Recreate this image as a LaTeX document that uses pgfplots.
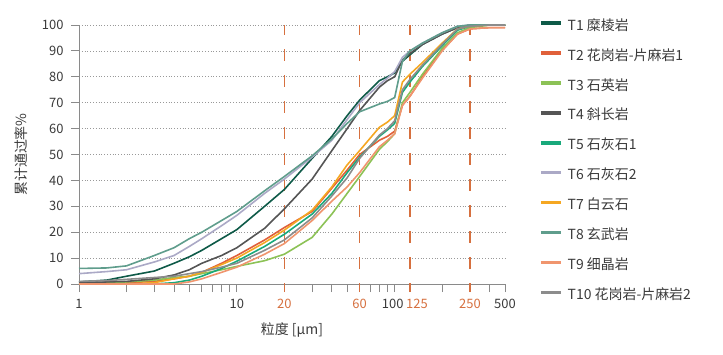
\documentclass[border=0pt]{standalone}
\usepackage{fontspec}
\setmainfont{Noto Sans CJK SC}
\usepackage{pgfplots}
\usepackage{pgfplotstable}
\pgfplotsset{compat=1.18}
\definecolor{cA}{HTML}{0E5A48}
\definecolor{cB}{HTML}{E0603A}
\definecolor{cC}{HTML}{8CC256}
\definecolor{cD}{HTML}{555555}
\definecolor{cE}{HTML}{19A97B}
\definecolor{cF}{HTML}{ABA9C6}
\definecolor{cG}{HTML}{F5A722}
\definecolor{cH}{HTML}{5F9D8C}
\definecolor{cI}{HTML}{F0956E}
\definecolor{cJ}{HTML}{8C8C8C}
\definecolor{dashc}{HTML}{D6703F}
\definecolor{axgray}{HTML}{8A8A8A}
\definecolor{txt}{HTML}{3A3A3A}
\pgfplotstableread{
x    t1   t2   t3   t4   t5   t6   t7   t8   t9   t10
1    0.8  0.5  0    0.5  0    4    0    6    0    1
1.5  1.5  0.5  0.3  0.8  0    4.8  0    6.2  0    1.3
2    3    0.5  0.8  1    0    5.5  0    7    0    1.8
3    5    1    1.5  2    0    8.5  0.5  11   0    2.5
4    8    2    2.5  3.5  0.5  11   2    14   0    3
5    10.5 3    3    5.5  1.5  14.5 3    17.5 0.8  4
6    13   4.5  4    8    3    17.5 4.5  20   2    4.8
8    17.5 8    5.5  11   6    22.5 7.5  24.5 4.5  6.5
10   21   11   6.8  14   8.8  26.5 10   28   6.5  8
15   30   17   9    21.5 14.5 35   16   36   11.5 13
20   36.5 21.8 11.5 29   19.2 40.5 20.8 41.5 15.6 17
30   48.5 28   18   40.5 27   49   28.5 49.5 24.5 25.5
40   57   37   27   51.5 35   55.5 37.5 56   32   34
50   65   44   35   60   43   63.5 46   62   37.5 41
60   71   50   41.5 67   49   70   51.5 66.5 43   48.5
80   78.5 55.5 52   76   57   77   60.5 69.5 53   57.5
90   80   57   55   78.5 59.5 79.5 62.5 70.5 55.5 60
100  81.5 59   58   80   62   82   65   72   58   63
112  86   69   70   86.5 74   87.5 78   86   69   75
125  88.5 72.5 74   89   78   90   81   90   72.5 79
150  92.5 80   81   92.5 84   93   85.5 93   79.5 84.5
200  96.5 90.5 91   96.5 92   97   93   97   90   92.5
250  99   96.5 97   99   98   99.5 98.5 99.5 96.5 98.5
300  100  98.5 99   100  99.5 100  99.5 100  98.5 99.5
400  100  99   100  100  100  100  100  100  99   100
500  100  99   100  100  100  100  100  100  99   100
}\data
\begin{document}
\begin{tikzpicture}
\useasboundingbox (0,0) rectangle (723bp,355bp);
\begin{axis}[
  at={(79bp,71bp)}, anchor=south west,
  scale only axis, width=426bp, height=259bp,
  xmode=log, xmin=1, xmax=500, ymin=0, ymax=100,
  clip=false,
  axis x line*=bottom, axis y line*=left,
  axis line style={color=axgray, line width=0.8bp},
  tick align=outside,
  xtick={1,10,100,500}, xticklabels={1,10,100\hspace*{4bp},500},
  minor xtick={2,3,4,5,6,7,8,9,30,40,50,70,80,90,200,300,400},
  major tick length=8bp, minor tick length=8bp,
  tick style={color=axgray, line width=0.8bp},
  ytick={0,10,...,100},
  /pgf/number format/assume math mode=true,
  ymajorgrids,
  major grid style={color=gray!80, line width=0.7bp, dash pattern=on 0.8bp off 2bp},
  extra x ticks={20,60,125,300},
  extra x tick labels={20,60,\hspace*{14bp}125,250},
  extra x tick style={grid=major,
    major grid style={color=dashc, line width=1.3bp, dash pattern=on 12bp off 14bp, dash phase=11bp},
    tick style={color=dashc, line width=1.3bp},
    xticklabel style={text=dashc}},
  tick label style={font=\fontsize{13}{15}\selectfont, text=txt},
  xticklabel style={yshift=-4bp},
  yticklabel style={xshift=-4bp},
  xlabel={粒度 [µm]}, ylabel={累计通过率\%},
  label style={font=\fontsize{14}{16}\selectfont, text=txt},
  xlabel style={at={(axis description cs:0.5,-0.178)}, anchor=center},
  ylabel style={at={(axis description cs:-0.136,0.5)}, anchor=center},
  every axis plot/.append style={line width=1.6bp, line join=round},
  legend style={at={(axis description cs:1,1)}, anchor=north west,
    xshift=34bp, yshift=5bp, draw=none, fill=none, inner sep=0pt,
    row sep=15.9bp, column sep=5bp,
    nodes={inner sep=0pt, text height=10bp, text depth=4bp, anchor=west},
    font=\fontsize{14}{16}\selectfont, text=txt},
  legend cell align=left,
  legend image code/.code={\draw[#1, line width=3.5bp] (0bp,4bp) -- (20bp,4bp);},
]
\addplot[cA] table[x=x,y=t1]{\data}; \addlegendentry{T1 糜棱岩}
\addplot[cB] table[x=x,y=t2]{\data}; \addlegendentry{T2 花岗岩-片麻岩1}
\addplot[cC] table[x=x,y=t3]{\data}; \addlegendentry{T3 石英岩}
\addplot[cD] table[x=x,y=t4]{\data}; \addlegendentry{T4 斜长岩}
\addplot[cE] table[x=x,y=t5]{\data}; \addlegendentry{T5 石灰石1}
\addplot[cF] table[x=x,y=t6]{\data}; \addlegendentry{T6 石灰石2}
\addplot[cG] table[x=x,y=t7]{\data}; \addlegendentry{T7 白云石}
\addplot[cH] table[x=x,y=t8]{\data}; \addlegendentry{T8 玄武岩}
\addplot[cI] table[x=x,y=t9]{\data}; \addlegendentry{T9 细晶岩}
\addplot[cJ] table[x=x,y=t10]{\data}; \addlegendentry{T10 花岗岩-片麻岩2}
\end{axis}
\end{tikzpicture}
\end{document}
